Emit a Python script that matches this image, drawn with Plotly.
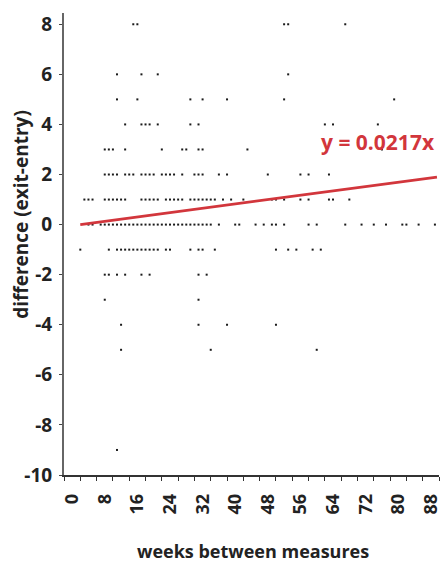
import plotly.graph_objects as go

# Observed (weeks between measures, exit-entry difference) pairs, grouped by difference value
weeks_diff_p8 = [13, 14, 50, 51, 65]
weeks_diff_p6 = [9, 15, 19, 51]
weeks_diff_p5 = [9, 14, 27, 30, 36, 50, 77]
weeks_diff_p4 = [11, 15, 16, 17, 19, 27, 29, 60, 62, 73]
weeks_diff_p3 = [6, 7, 8, 11, 20, 25, 26, 29, 30, 41, 74]
weeks_diff_p2 = [6, 7, 8, 9, 11, 12, 13, 15, 16, 17, 18, 20, 21, 22, 23, 25,
                 28, 29, 30, 34, 36, 46, 54, 56, 61]
weeks_diff_p1 = [1, 2, 3, 6, 7, 8, 9, 10, 11, 15, 16, 17, 18, 19, 21, 22, 23,
                 24, 25, 27, 28, 29, 30, 31, 32, 33, 35, 37, 40, 47, 48, 50,
                 54, 56, 61, 62, 66]
weeks_diff_0 = [2, 3, 5, 6, 7, 8, 9, 10, 11, 12, 13, 14, 15, 16, 17, 18, 19,
                20, 21, 22, 23, 24, 25, 26, 27, 28, 29, 30, 31, 32, 34, 38,
                39, 43, 45, 47, 48, 50, 56, 58, 65, 69, 72, 75, 79, 80, 83, 87]
weeks_diff_m1 = [0, 7, 9, 10, 11, 12, 13, 14, 15, 16, 17, 18, 19, 21, 22, 27,
                 29, 30, 33, 48, 51, 53, 57, 59]
weeks_diff_m2 = [6, 7, 9, 11, 15, 17, 29, 31]
weeks_diff_m3 = [6, 29]
weeks_diff_m4 = [10, 29, 36, 48]
weeks_diff_m5 = [10, 32, 58]
weeks_diff_m9 = [9]

diff_levels = [8, 6, 5, 4, 3, 2, 1, 0, -1, -2, -3, -4, -5, -9]
weeks_by_level = [weeks_diff_p8, weeks_diff_p6, weeks_diff_p5, weeks_diff_p4,
                  weeks_diff_p3, weeks_diff_p2, weeks_diff_p1, weeks_diff_0,
                  weeks_diff_m1, weeks_diff_m2, weeks_diff_m3, weeks_diff_m4,
                  weeks_diff_m5, weeks_diff_m9]

# Fitted trend through the origin
slope = 0.0217
fit_weeks = [0, 87.5]

x_tick_vals = [0, 8, 16, 24, 32, 40, 48, 56, 64, 72, 80, 88]
y_tick_vals = [8, 6, 4, 2, 0, -2, -4, -6, -8, -10]

xs, ys = [], []
for level, weeks in zip(diff_levels, weeks_by_level):
    xs.extend(weeks)
    ys.extend([level] * len(weeks))

FONT = "Open Sans"
RED = "#d2363c"
INK = "#222222"

fig = go.Figure()
fig.add_trace(go.Scatter(
    x=xs, y=ys, mode="markers",
    marker=dict(symbol="square", size=2, color="#1a1a1a", line=dict(width=0)),
    hoverinfo="x+y", showlegend=False,
))
fig.add_trace(go.Scatter(
    x=fit_weeks, y=[slope * w for w in fit_weeks], mode="lines",
    line=dict(color=RED, width=2.7), showlegend=False, hoverinfo="skip",
))

fig.add_annotation(
    x=87.6, y=3.3, xref="x", yref="y", xanchor="right", yanchor="middle",
    text=f"y = {slope}x", showarrow=False,
    font=dict(family=FONT, size=21, color=RED, weight="bold"),
)
fig.add_annotation(
    x=-0.115, y=0.565, xref="paper", yref="paper", xanchor="center", yanchor="middle",
    text="difference (exit-entry)", textangle=-90, showarrow=False,
    font=dict(family=FONT, size=19, color=INK, weight="bold"),
)
fig.add_annotation(
    x=0.503, y=-0.165, xref="paper", yref="paper", xanchor="center", yanchor="middle",
    text="weeks between measures", showarrow=False,
    font=dict(family=FONT, size=18, color=INK, weight="bold"),
)

fig.update_layout(
    width=441, height=562,
    margin=dict(l=64, r=2, t=13, b=87, autoexpand=False),
    paper_bgcolor="white", plot_bgcolor="white",
    font=dict(family=FONT, color=INK),
)
fig.update_xaxes(
    range=[-4, 88], tickvals=x_tick_vals, ticktext=[str(v) for v in x_tick_vals],
    tickangle=-90, ticks="outside", ticklen=4, tickwidth=1, tickcolor="#333",
    minor=dict(tick0=-4, dtick=4, ticks="outside", ticklen=4, tickwidth=1, tickcolor="#333"),
    showline=True, linecolor="#333", linewidth=1.5, mirror=False,
    showgrid=False, zeroline=False, automargin=False,
    tickfont=dict(family=FONT, size=18, color=INK, weight="bold"),
    ticklabelstandoff=6, ticklabelshift=-8, ticklabeloverflow="allow",
)
fig.update_yaxes(
    range=[-10, 8.45], tickvals=y_tick_vals, ticktext=[str(v) for v in y_tick_vals],
    ticks="outside", ticklen=3, tickwidth=1, tickcolor="#444",
    showline=True, linecolor="#666", linewidth=2,
    showgrid=False, zeroline=False, automargin=False,
    tickfont=dict(family=FONT, size=19, color=INK, weight="bold"),
    ticklabelstandoff=3,
)

fig.write_html("out.html")
